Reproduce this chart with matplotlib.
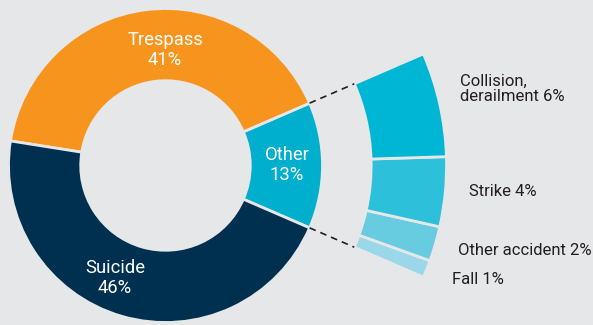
import numpy as np
import matplotlib.pyplot as plt

plt.rcParams['font.family'] = ['Roboto', 'DejaVu Sans']

# Main breakdown (per cent)
main_labels = ['Other', 'Trespass', 'Suicide']
main_values = [13, 41, 46]
main_colors = ['#00AECE', '#F7941E', '#00304F']

# Breakdown of "Other" (per cent), drawn bottom to top
sub_labels = ['Fall', 'Other accident', 'Strike', 'Collision,\nderailment']
sub_values = [1, 2, 4, 6]
sub_colors = ['#9AD8E9', '#68CCE1', '#2CC0DB', '#00B6D5']

bg = '#E6E7E8'
R = 1.0
HOLE = 0.54
SUB_IN, SUB_OUT = 1.31, 1.79

fig = plt.figure(figsize=(5.93, 3.25), dpi=100, facecolor=bg)
ax = fig.add_axes([0, 0, 1, 1])
ax.set_facecolor(bg)

total = sum(main_values)
other_span = 360 * main_values[0] / total
start = -other_span / 2

ax.pie(main_values, colors=main_colors, startangle=start, counterclock=True,
       radius=R, wedgeprops=dict(width=R - HOLE, edgecolor=bg, linewidth=2))

sub_frac = [v / total for v in sub_values]
ax.pie(sub_frac, normalize=False, colors=sub_colors, startangle=start,
       counterclock=True, radius=SUB_OUT,
       wedgeprops=dict(width=SUB_OUT - SUB_IN, edgecolor=bg, linewidth=2))

# dashed connectors from the "Other" wedge to the breakdown ring
for a in (start, -start):
    t = np.deg2rad(a)
    ax.plot([R * np.cos(t), SUB_IN * np.cos(t)], [R * np.sin(t), SUB_IN * np.sin(t)],
            color='#231F20', lw=1.2, ls=(0, (4, 3)))

# labels inside the main ring
inner_pos = {'Trespass': (-0.003, 0.736), 'Other': (0.774, 0.003), 'Suicide': (-0.322, -0.717)}
for lab, val in zip(main_labels, main_values):
    x, y = inner_pos[lab]
    ax.text(x, y, f'{lab}\n{val}%', color='white', fontsize=13.2, ha='center',
            va='center', linespacing=1.15)

# labels for the breakdown
sub_pos = [(1.825, -0.729), (1.863, -0.540), (1.933, -0.166), (1.876, 0.487)]
for (x, y), lab, val in zip(sub_pos, sub_labels, sub_values):
    ax.text(x, y, f'{lab} {val}%', color='#231F20', fontsize=12, ha='left',
            va='center', linespacing=1.05)

ax.set_xlim(-165.5 / 157, (593 - 165.5) / 157)
ax.set_ylim(-(325 - 165.5) / 157, 165.5 / 157)
ax.set_aspect('equal')
ax.axis('off')

fig.savefig('out.png', dpi=100, facecolor=bg)
